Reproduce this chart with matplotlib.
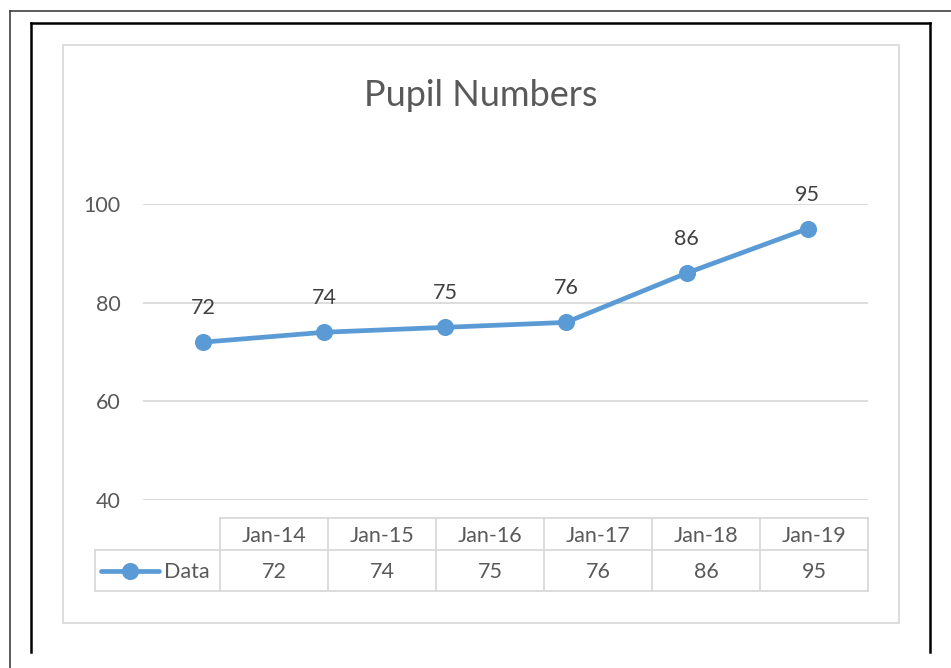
import matplotlib.pyplot as plt
from matplotlib.lines import Line2D
from matplotlib.patches import Rectangle

# chart data
months = ["Jan-14", "Jan-15", "Jan-16", "Jan-17", "Jan-18", "Jan-19"]
pupils = [72, 74, 75, 76, 86, 95]
y_ticks = [40, 60, 80, 100]
series_name = "Data"

W, H = 951, 668
blue = "#5B9BD5"
grid_col = "#d9d9d9"
text_col = "#595959"

plt.rcParams["font.family"] = ["Lato", "DejaVu Sans"]

fig = plt.figure(figsize=(W / 100, H / 100), dpi=100)


def fx(x):
    return x / W


def fy(y):
    return 1 - y / H


def hline(x0, x1, y, color=grid_col, lw=1.3):
    fig.add_artist(Line2D([fx(x0), fx(x1)], [fy(y), fy(y)], color=color, lw=lw,
                          transform=fig.transFigure))


def vline(x, y0, y1, color=grid_col, lw=1.3):
    fig.add_artist(Line2D([fx(x), fx(x)], [fy(y0), fy(y1)], color=color, lw=lw,
                          transform=fig.transFigure))


# page frame lines (document crop)
hline(10, W, 11, color="#404040", lw=1.2)
vline(10, 11, H, color="#404040", lw=1.2)
hline(31, 930, 22.5, color="black", lw=1.8)
vline(31, 22.5, 652, color="black", lw=1.8)
vline(930, 22.5, 652, color="black", lw=1.8)

# chart border
fig.add_artist(Rectangle((fx(63), fy(623)), fx(899) - fx(63), fy(45.5) - fy(623),
                         fill=False, edgecolor=grid_col, lw=1.3,
                         transform=fig.transFigure))

# plot area
ax = fig.add_axes([fx(143), fy(500), fx(868) - fx(143), fy(204) - fy(500)])
xs = list(range(len(months)))
ax.plot(xs, pupils, color=blue, lw=3.4, marker="o", markersize=11.3,
        solid_capstyle="round", zorder=3)
for x, v in zip(xs, pupils):
    ax.annotate(str(v), (x, v), xytext=(0, 34), textcoords="offset pixels",
                ha="center", va="center", fontsize=15.5, color="#404040",
                annotation_clip=False)

ax.set_xlim(-0.5, len(months) - 0.5)
ax.set_ylim(40, 100)
ax.set_yticks(y_ticks)
ax.set_xticks([])
ax.grid(axis="y", color=grid_col, lw=1.3)
ax.set_axisbelow(True)
ax.tick_params(axis="y", length=0, pad=16, labelsize=15.5, labelcolor=text_col)
for s in ax.spines.values():
    s.set_visible(False)

fig.text(fx(481), fy(96), "Pupil Numbers", ha="center", va="center",
         fontsize=26, color=text_col)

# data table under the axis
col_left, col_w = 220, 108
top, mid, bot = 518, 550, 591
hline(col_left, col_left + col_w * len(months), top)
hline(95, col_left + col_w * len(months), mid)
hline(95, col_left + col_w * len(months), bot)
vline(95, mid, bot)
for i in range(len(months) + 1):
    vline(col_left + col_w * i, top, bot)
for i, (m, v) in enumerate(zip(months, pupils)):
    cx = col_left + col_w * (i + 0.5)
    fig.text(fx(cx), fy((top + mid) / 2 + 1.5), m, ha="center", va="center",
             fontsize=15.5, color=text_col)
    fig.text(fx(cx), fy((mid + bot) / 2 + 1.5), str(v), ha="center", va="center",
             fontsize=15.5, color=text_col)

# legend key inside table
fig.add_artist(Line2D([fx(101), fx(159)], [fy(570.5), fy(570.5)], color=blue,
                      lw=3.4, solid_capstyle="round", transform=fig.transFigure))
fig.add_artist(Line2D([fx(130)], [fy(570.5)], color=blue, marker="o",
                      markersize=11.3, transform=fig.transFigure))
fig.text(fx(164), fy(572), series_name, ha="left", va="center",
         fontsize=15.5, color=text_col)

fig.savefig("out.png", dpi=100, facecolor="white")
